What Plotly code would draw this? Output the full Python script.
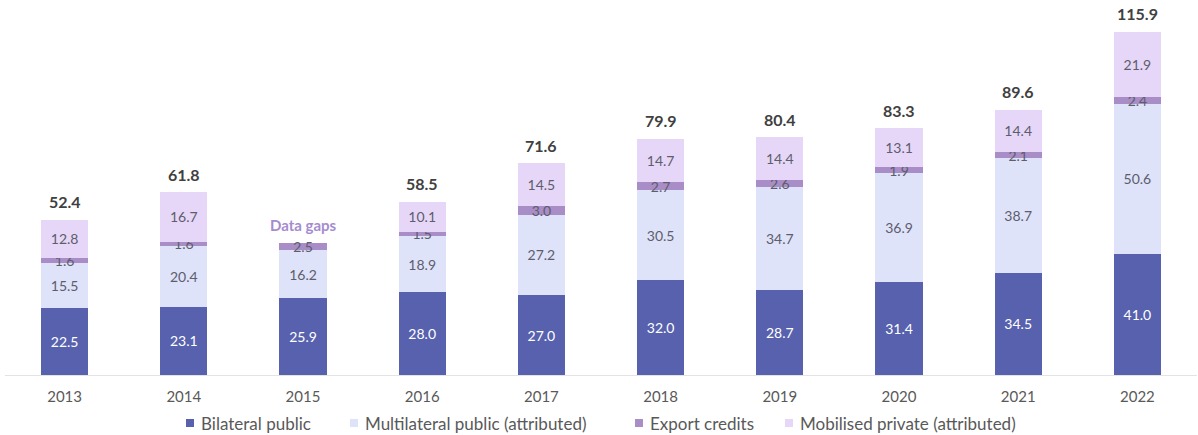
import plotly.graph_objects as go

# Climate finance by component, USD billion
years = ["2013", "2014", "2015", "2016", "2017", "2018", "2019", "2020", "2021", "2022"]
bilateral_public = [22.5, 23.1, 25.9, 28.0, 27.0, 32.0, 28.7, 31.4, 34.5, 41.0]
multilateral_public = [15.5, 20.4, 16.2, 18.9, 27.2, 30.5, 34.7, 36.9, 38.7, 50.6]
export_credits = [1.6, 1.6, 2.5, 1.5, 3.0, 2.7, 2.6, 1.9, 2.1, 2.4]
mobilised_private = [12.8, 16.7, None, 10.1, 14.5, 14.7, 14.4, 13.1, 14.4, 21.9]
totals = [52.4, 61.8, None, 58.5, 71.6, 79.9, 80.4, 83.3, 89.6, 115.9]
gap_year = "2015"
gap_label = "Data gaps"
series_names = ["Bilateral public", "Multilateral public (attributed)",
                "Export credits", "Mobilised private (attributed)"]

FONT = "Lato"
W, H = 1198, 435
M_L, M_R, M_T, M_B = 5, 1, 0, 60
colors = ["#5761ad", "#dee3fa", "#a98dc7", "#e6d7f8"]
text_colors = ["#ffffff", "#5d5d6c", "#5d5d6c", "#5d5d6c"]
series_values = [bilateral_public, multilateral_public, export_credits, mobilised_private]

fig = go.Figure()
for name, vals, color, tcolor in zip(series_names, series_values, colors, text_colors):
    fig.add_trace(go.Bar(
        x=years, y=vals, name=name, marker=dict(color=color, line=dict(width=0)),
        text=[f"{v:.1f}" if v is not None else "" for v in vals],
        textposition="inside", insidetextanchor="middle", constraintext="none",
        textfont=dict(family=FONT, size=14, color=tcolor),
        showlegend=False, hoverinfo="skip",
    ))

annotations = []
# Stack totals above each bar (category index positions on the x axis)
for i, tot in enumerate(totals):
    if tot is None:
        continue
    annotations.append(dict(
        x=i, y=tot, xref="x", yref="y", text=f"<b>{tot:.1f}</b>",
        showarrow=False, yanchor="middle", yshift=18,
        font=dict(family=FONT, size=16, color="#404040"),
    ))

gap_idx = years.index(gap_year)
gap_top = bilateral_public[gap_idx] + multilateral_public[gap_idx] + export_credits[gap_idx]
annotations.append(dict(
    x=gap_idx, y=gap_top, xref="x", yref="y", text=f"<b>{gap_label}</b>",
    showarrow=False, yanchor="middle", yshift=18,
    font=dict(family=FONT, size=15, color="#a58bd0"),
))

# Hand-placed legend row below the axis (pixel positions converted to paper coords)
plot_w = W - M_L - M_R
plot_h = H - M_T - M_B
legend_px = [186, 350, 635, 785]
legend_y_px = 423
shapes = []
for name, color, px in zip(series_names, colors, legend_px):
    x0 = (px - M_L) / plot_w
    x1 = (px + 8 - M_L) / plot_w
    yc = (plot_h - (legend_y_px - M_T)) / plot_h
    half = 4 / plot_h
    shapes.append(dict(type="rect", xref="paper", yref="paper",
                       x0=x0, x1=x1, y0=yc - half, y1=yc + half,
                       fillcolor=color, line=dict(width=0)))
    annotations.append(dict(
        x=(px + 14 - M_L) / plot_w, y=yc, xref="paper", yref="paper",
        xanchor="left", yanchor="middle", text=name, showarrow=False,
        borderpad=0, font=dict(family=FONT, size=17, color="#595959"),
    ))

fig.update_layout(
    width=W, height=H,
    margin=dict(l=M_L, r=M_R, t=M_T, b=M_B),
    barmode="stack", bargap=0.605,
    plot_bgcolor="white", paper_bgcolor="white",
    font=dict(family=FONT, color="#595959"),
    annotations=annotations, shapes=shapes,
    showlegend=False,
    xaxis=dict(
        type="category", categoryorder="array", categoryarray=years,
        range=[-0.5, len(years) - 0.5],
        showgrid=False, showline=True, linecolor="#e3e3e3", linewidth=1,
        ticks="outside", ticklen=8, tickcolor="rgba(0,0,0,0)",
        tickfont=dict(family=FONT, size=15, color="#595959"),
    ),
    yaxis=dict(range=[0, 126.7], visible=False),
)

fig.write_html("out.html")
